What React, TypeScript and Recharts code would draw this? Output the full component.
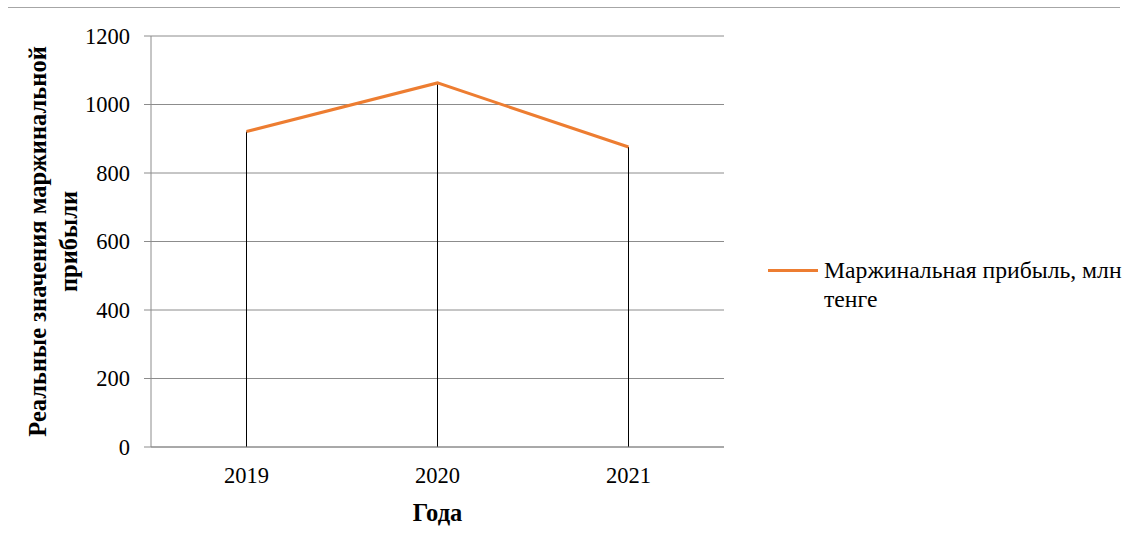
import {
  LineChart,
  Line,
  XAxis,
  YAxis,
  CartesianGrid,
  Legend,
  ReferenceLine,
} from "recharts";

const years = ["2019", "2020", "2021"];
const marginProfit = [921, 1063, 876];
const yTicks = [0, 200, 400, 600, 800, 1000, 1200];

const seriesName = "Маржинальная прибыль, млн тенге";
const yTitle = ["Реальные значения маржинальной", "прибыли"];
const xTitle = "Года";

const data = years.map((year, i) => ({ year, value: marginProfit[i] }));

const FONT = '"Liberation Serif", "Times New Roman", serif';
const ORANGE = "#ED7D31";
const GRID = "#8c8c8c";

function YTitle({ viewBox }: any) {
  const cy = viewBox.y + viewBox.height / 2;
  const xs = [37, 68];
  return (
    <g>
      {yTitle.map((line, i) => (
        <text
          key={line}
          x={xs[i]}
          y={cy}
          transform={`rotate(-90, ${xs[i]}, ${cy})`}
          textAnchor="middle"
          dominantBaseline="central"
          fontFamily={FONT}
          fontWeight="bold"
          fontSize={24.5}
          fill="#000"
        >
          {line}
        </text>
      ))}
    </g>
  );
}

function LegendBox() {
  return (
    <div
      style={{
        display: "flex",
        alignItems: "flex-start",
        paddingLeft: 44,
        fontFamily: FONT,
        fontSize: 23.7,
        lineHeight: "29px",
        color: "#000",
      }}
    >
      <svg width={56} height={29} style={{ flex: "none" }}>
        <line x1={0} x2={50} y1={14.5} y2={14.5} stroke={ORANGE} strokeWidth={3} />
      </svg>
      <div style={{ width: 305 }}>{seriesName}</div>
    </div>
  );
}

export default function App() {
  return (
    <div
      style={{
        position: "absolute",
        left: 0,
        top: 0,
        width: 1131,
        height: 552,
        background: "#fff",
      }}
    >
      <div
        style={{
          position: "absolute",
          left: 8,
          top: 7,
          width: 1112,
          borderTop: "1px solid #a6a6a6",
        }}
      />
      <LineChart
        width={1131}
        height={552}
        data={data}
        margin={{ top: 36, right: 6, bottom: 0, left: 0 }}
      >
        <CartesianGrid vertical={false} stroke={GRID} strokeDasharray="" />
        <XAxis
          dataKey="year"
          scale="band"
          height={105}
          tickLine={false}
          tickSize={0}
          tickMargin={20}
          axisLine={{ stroke: GRID }}
          tick={{ fontFamily: FONT, fontSize: 22.5, fill: "#000" }}
          label={{
            value: xTitle,
            position: "insideBottom",
            offset: 31,
            fontFamily: FONT,
            fontWeight: "bold",
            fontSize: 24.5,
            fill: "#000",
          }}
        />
        <YAxis
          width={151}
          domain={[0, 1200]}
          ticks={yTicks}
          interval={0}
          tickSize={7}
          tickMargin={14}
          tickLine={{ stroke: GRID }}
          axisLine={{ stroke: GRID }}
          tick={{ fontFamily: FONT, fontSize: 22.5, fill: "#000" }}
          label={{ content: YTitle }}
        />
        {data.map((d) => (
          <ReferenceLine
            key={d.year}
            segment={[
              { x: d.year, y: 0 },
              { x: d.year, y: d.value },
            ]}
            stroke="#000"
            strokeWidth={1}
          />
        ))}
        <Line
          type="linear"
          dataKey="value"
          name={seriesName}
          stroke={ORANGE}
          strokeWidth={3}
          dot={false}
          activeDot={false}
          isAnimationActive={false}
        />
        <Legend
          layout="vertical"
          align="right"
          verticalAlign="middle"
          width={401}
          content={LegendBox}
          wrapperStyle={{ top: 256 }}
        />
      </LineChart>
    </div>
  );
}
